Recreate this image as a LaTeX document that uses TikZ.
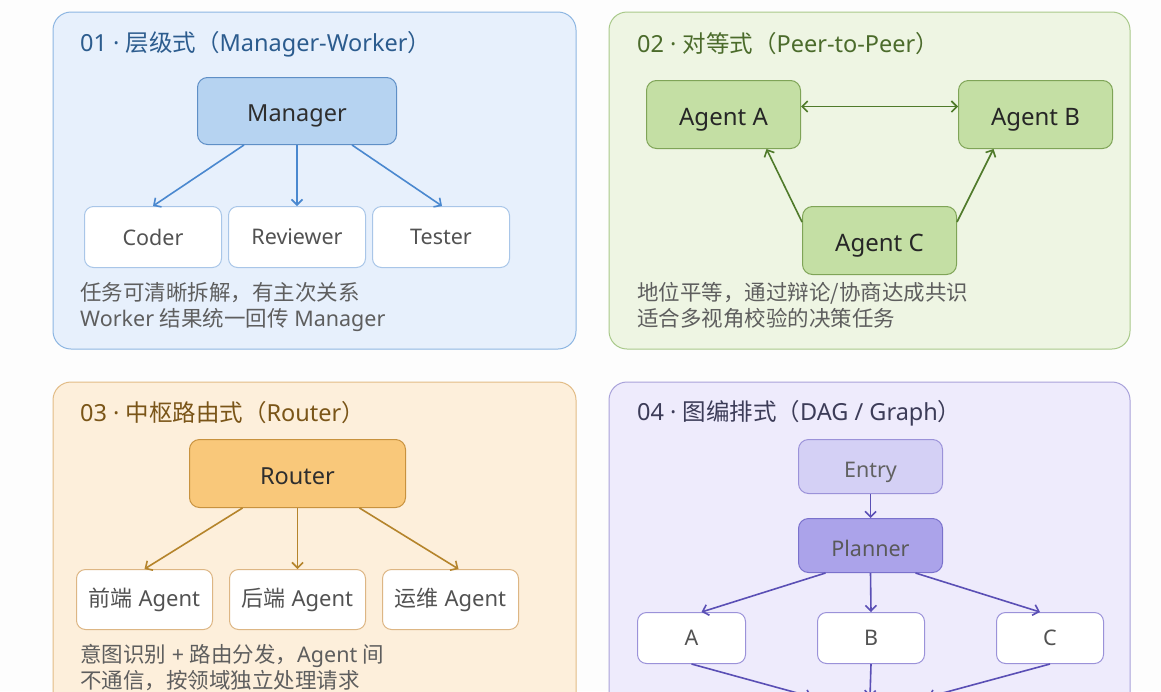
\documentclass[tikz,border=0pt]{standalone}
\usepackage{fontspec}
\setmainfont{Noto Sans}
\newfontfamily\zhf{Noto Sans CJK SC}
\newcommand\zh[1]{{\zhf #1}}
\usetikzlibrary{arrows.meta}
\definecolor{bgc}{HTML}{FDFDFD}
% panel 1 blue
\definecolor{pAfill}{HTML}{E7F0FC}\definecolor{pAdraw}{HTML}{8DB6E2}\definecolor{pAtitle}{HTML}{2C5C8E}
\definecolor{mgrfill}{HTML}{B6D3F1}\definecolor{mgrdraw}{HTML}{5F8FC6}\definecolor{wkdraw}{HTML}{A9C6E8}\definecolor{arA}{HTML}{4A88CF}
% panel 2 green
\definecolor{pBfill}{HTML}{EEF5E3}\definecolor{pBdraw}{HTML}{A9C98A}\definecolor{pBtitle}{HTML}{4B6B2B}
\definecolor{agfill}{HTML}{C4DFA4}\definecolor{agdraw}{HTML}{7FA457}\definecolor{arB}{HTML}{4F7A2A}
% panel 3 orange
\definecolor{pCfill}{HTML}{FDEFDB}\definecolor{pCdraw}{HTML}{E2BC86}\definecolor{pCtitle}{HTML}{7A5518}
\definecolor{rtfill}{HTML}{F9C87A}\definecolor{rtdraw}{HTML}{C8923F}\definecolor{rcdraw}{HTML}{DDB684}\definecolor{arC}{HTML}{B5842B}
% panel 4 purple
\definecolor{pDfill}{HTML}{EEEBFC}\definecolor{pDdraw}{HTML}{A9A2DA}\definecolor{pDtitle}{HTML}{3C3C58}
\definecolor{enfill}{HTML}{D4D0F5}\definecolor{endraw}{HTML}{9B92D9}\definecolor{plfill}{HTML}{ABA3EA}\definecolor{pldraw}{HTML}{7A71CC}\definecolor{arD}{HTML}{5A4FB5}
\definecolor{desc}{HTML}{5E5E5E}
\begin{document}
\begin{tikzpicture}[x=1pt,y=-1pt,
  panel/.style={rounded corners=18pt,line width=1pt},
  ptitle/.style={anchor=west,inner sep=0pt,font=\fontsize{23.5}{28}\selectfont},
  pdesc/.style={anchor=base west,inner sep=0pt,align=left,text=desc,font=\fontsize{21.5}{26}\selectfont},
  box/.style={draw,rounded corners=10pt,line width=1pt,inner sep=0pt,anchor=north west},
  small/.style={box,rounded corners=9pt,fill=white,text=black!68,font=\fontsize{21.5}{26}\selectfont},
  big/.style={box,font=\fontsize{23.5}{28}\selectfont,text height=21pt,text depth=0pt},
  agent/.style={big,fill=agfill,draw=agdraw,text=black!85,font=\fontsize{24}{28}\selectfont,minimum width=154pt,minimum height=68pt},
  flow/.style={big,font=\fontsize{21.5}{26}\selectfont,text height=21pt,minimum width=144pt,minimum height=54pt},
  arr/.style={line width=1.6pt,-{Straight Barb[length=5.5pt,width=11pt]}},
]
\clip (0,0) rectangle (1161,691);
\fill[bgc] (0,0) rectangle (1161,691);

% ---------- Panel 1 ----------
\draw[panel,fill=pAfill,draw=pAdraw] (53,12) rectangle (576,349);
\node[ptitle,text=pAtitle] (t1) at (80,44) {01 · \zh{层级式（}Manager-Worker\zh{）}};
\node[big,fill=mgrfill,draw=mgrdraw,text=black!82,minimum width=199pt,minimum height=67pt] (mgr) at (197,77) {Manager};
\node[small,draw=wkdraw,minimum width=137pt,minimum height=61pt] (coder) at (84,206) {Coder};
\node[small,draw=wkdraw,minimum width=137pt,minimum height=61pt] (rev) at (228,206) {Reviewer};
\node[small,draw=wkdraw,minimum width=137pt,minimum height=61pt] (tester) at (372,206) {Tester};
\draw[arr,arA] ([xshift=-53pt]mgr.south) -- (coder.north);
\draw[arr,arA] (mgr.south) -- (rev.north);
\draw[arr,arA] ([xshift=55pt]mgr.south) -- ([xshift=1pt]tester.north);
\node[pdesc] (d1) at (80,326) {\zh{任务可清晰拆解，有主次关系}\\Worker \zh{结果统一回传} Manager};

% ---------- Panel 2 ----------
\draw[panel,fill=pBfill,draw=pBdraw] (609,12) rectangle (1130,349);
\node[ptitle,text=pBtitle] (t2) at (637,44) {02 · \zh{对等式（}Peer-to-Peer\zh{）}};
\node[agent] (ga) at (646,80) {Agent A};
\node[agent] (gb) at (958,80) {Agent B};
\node[agent] (gc) at (802,206) {Agent C};
\draw[line width=1.6pt,arB,{Straight Barb[length=5.5pt,width=11pt]}-{Straight Barb[length=5.5pt,width=11pt]}] ([yshift=8pt]ga.east) -- ([yshift=8pt]gb.west);
\draw[arr,arB] ([yshift=-16pt]gc.north west) -- ([xshift=43pt]ga.south);
\draw[arr,arB] ([yshift=-16pt]gc.north east) -- ([xshift=-42pt]gb.south);
\node[pdesc] (d2) at (637,326) {\zh{地位平等，通过辩论/协商达成共识}\\\zh{适合多视角校验的决策任务}};

% ---------- Panel 3 ----------
\draw[panel,fill=pCfill,draw=pCdraw] (53,382) rectangle (576,780);
\node[ptitle,text=pCtitle] (t3) at (80,413) {03 · \zh{中枢路由式（}Router\zh{）}};
\node[big,fill=rtfill,draw=rtdraw,text=black!82,minimum width=216pt,minimum height=68pt] (rt) at (189,439) {Router};
\node[small,draw=rcdraw,minimum width=136pt,minimum height=60pt,font=\fontsize{22}{26}\selectfont] (fe) at (76,569) {\zh{前端} Agent};
\node[small,draw=rcdraw,minimum width=136pt,minimum height=60pt,font=\fontsize{22}{26}\selectfont] (be) at (229,569) {\zh{后端} Agent};
\node[small,draw=rcdraw,minimum width=136pt,minimum height=60pt,font=\fontsize{22}{26}\selectfont] (ops) at (382,569) {\zh{运维} Agent};
\draw[arr,arC] ([xshift=-55pt]rt.south) -- (fe.north);
\draw[arr,arC] (rt.south) -- (be.north);
\draw[arr,arC] ([xshift=62pt]rt.south) -- ([xshift=8pt]ops.north);
\node[pdesc] (d3) at (80,688) {\zh{意图识别} + \zh{路由分发，}Agent \zh{间}\\\zh{不通信，按领域独立处理请求}};

% ---------- Panel 4 ----------
\draw[panel,fill=pDfill,draw=pDdraw] (609,382) rectangle (1130,780);
\node[ptitle,text=pDtitle] (t4) at (637,413) {04 · \zh{图编排式（}DAG / Graph\zh{）}};
\node[flow,fill=enfill,draw=endraw,text=black!62] (en) at (798,439) {Entry};
\node[flow,fill=plfill,draw=pldraw,text=black!65] (pl) at (798,518) {Planner};
\node[small,draw=endraw,minimum width=108pt,minimum height=51pt] (na) at (637,612) {A};
\node[small,draw=endraw,minimum width=107pt,minimum height=51pt] (nb) at (817,612) {B};
\node[small,draw=endraw,minimum width=107pt,minimum height=51pt] (nc) at (996,612) {C};
\coordinate (ma) at (812,697);
\coordinate (mb) at (870,697);
\coordinate (mc) at (928,697);
\draw[arr,arD] (en.south) -- (pl.north);
\draw[arr,arD] ([xshift=-45pt]pl.south) -- ([xshift=10pt]na.north);
\draw[arr,arD] (pl.south) -- (nb.north);
\draw[arr,arD] ([xshift=45pt]pl.south) -- ([xshift=-10pt]nc.north);
\draw[arr,arD] (na.south) -- (ma);
\draw[arr,arD] (nb.south) -- (mb);
\draw[arr,arD] (nc.south) -- (mc);
\end{tikzpicture}
\end{document}
